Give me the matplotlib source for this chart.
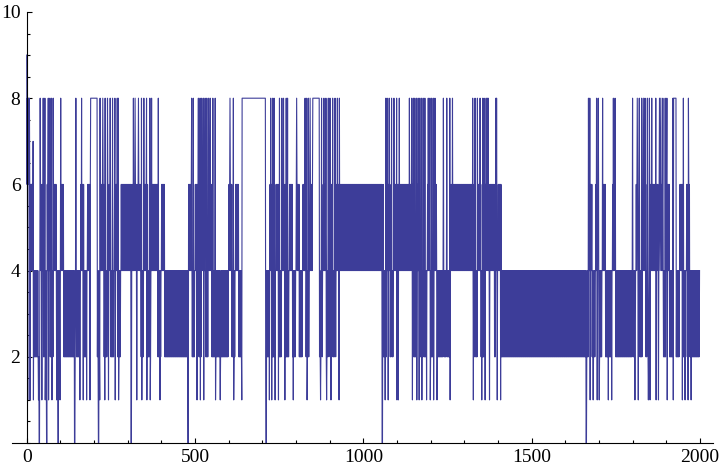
import matplotlib.pyplot as plt
import numpy as np
from matplotlib.ticker import MultipleLocator, FixedLocator

# band per block of 10 steps: H = swings 4..6, L = swings 2..4, 8 = held at 8
bands = ("HHLLHLHLHL" "HLLLLLHLH8" "8LHLHLHLHH" "HHHHLHLHHL" "HLLLLLLLHL"
         "HLHLHLLLLL" "HLHL888888" "8LHLHLHLHL" "HLHLH88LHL" "HLHHHHHHHH"
         "HHHHHHLHLH" "HHHHHLHLLH" "LHLLLLHHHH" "HHHLHLHHHL" "HLLLLLLLLL"
         "LLLLLLLLLL" "LLLLLLLHLH" "LHLLHLLLLL" "LHLHLHHHHL" "HL8LHLHLLL")

spikes_8 = [2, 4, 6, 8, 40, 45, 49, 54, 59, 64, 69, 74, 79, 101, 146, 163,
            218, 226, 233, 240, 248, 255, 262, 269, 272, 317, 322, 332, 341,
            348, 356, 366, 371, 391, 490, 495, 510, 515, 520, 525, 530, 535,
            540, 545, 553, 560, 604, 614, 725, 731, 735, 751, 758, 763, 771,
            775, 802, 827, 832, 837, 842, 876, 883, 889, 896, 901, 909, 916,
            923, 929, 1067, 1071, 1077, 1084, 1091, 1099, 1107, 1137, 1144,
            1149, 1153, 1158, 1163, 1168, 1173, 1178, 1183, 1193, 1198, 1203,
            1208, 1213, 1238, 1248, 1257, 1265, 1325, 1332, 1339, 1347, 1355,
            1359, 1365, 1368, 1371, 1394, 1396, 1669, 1673, 1693, 1698, 1711,
            1743, 1748, 1800, 1814, 1820, 1827, 1832, 1837, 1844, 1850, 1857,
            1869, 1880, 1884, 1890, 1897, 1902, 1951, 1966]

spikes_1 = [3, 10, 20, 35, 45, 55, 65, 75, 89, 99, 158, 168, 178, 188, 217,
            232, 243, 263, 273, 327, 342, 357, 367, 396, 506, 516, 526, 561,
            575, 615, 639, 721, 728, 738, 748, 767, 792, 833, 873, 891, 904,
            928, 1065, 1074, 1100, 1104, 1146, 1159, 1166, 1174, 1188, 1199,
            1209, 1219, 1258, 1327, 1352, 1362, 1375, 1398, 1408, 1674, 1683,
            1695, 1701, 1728, 1738, 1807, 1817, 1847, 1852, 1870, 1877, 1903,
            1921, 1948, 1956, 1965, 1974]

zeros = [37, 59, 93, 142, 213, 310, 479, 711, 1056, 1662]

band_levels = {"H": (4, 6), "L": (2, 4), "8": (8, 8)}

values = []
for b in bands:
    lo, hi = band_levels[b]
    for k in range(10):
        values.append(lo if k % 2 == 0 else hi)
values = np.array(values, dtype=float)
values[spikes_8] = 8
values[spikes_1] = 1
for z in zeros:
    values[z:z + 2] = 0
values[0] = 9
values[19] = 7

fig = plt.figure(figsize=(7.2, 4.7), dpi=100)
ax = fig.add_axes([11.7 / 720, 27 / 470, 701.3 / 720, 431 / 470])

ax.plot(np.arange(len(values)), values, color='#3d3d99', lw=0.8)

ax.set_xlim(-44.6, 2039)
ax.set_ylim(0, 10)

ax.spines['top'].set_visible(False)
ax.spines['right'].set_visible(False)
ax.spines['left'].set_position(('data', 0))
for s in ('left', 'bottom'):
    ax.spines[s].set_linewidth(0.8)

ax.xaxis.set_major_locator(FixedLocator([0, 500, 1000, 1500, 2000]))
ax.xaxis.set_minor_locator(MultipleLocator(100))
ax.yaxis.set_major_locator(FixedLocator([2, 4, 6, 8, 10]))
ax.yaxis.set_minor_locator(MultipleLocator(0.5))

ax.tick_params(which='both', direction='in', width=0.8)
ax.tick_params(which='major', length=3.5)
ax.tick_params(which='minor', length=2)
ax.tick_params(axis='x', pad=4)
ax.tick_params(axis='y', pad=4.5)
for lab in ax.get_xticklabels() + ax.get_yticklabels():
    lab.set_fontfamily('Liberation Serif')
    lab.set_fontsize(14)

fig.savefig('out.png', dpi=100)
